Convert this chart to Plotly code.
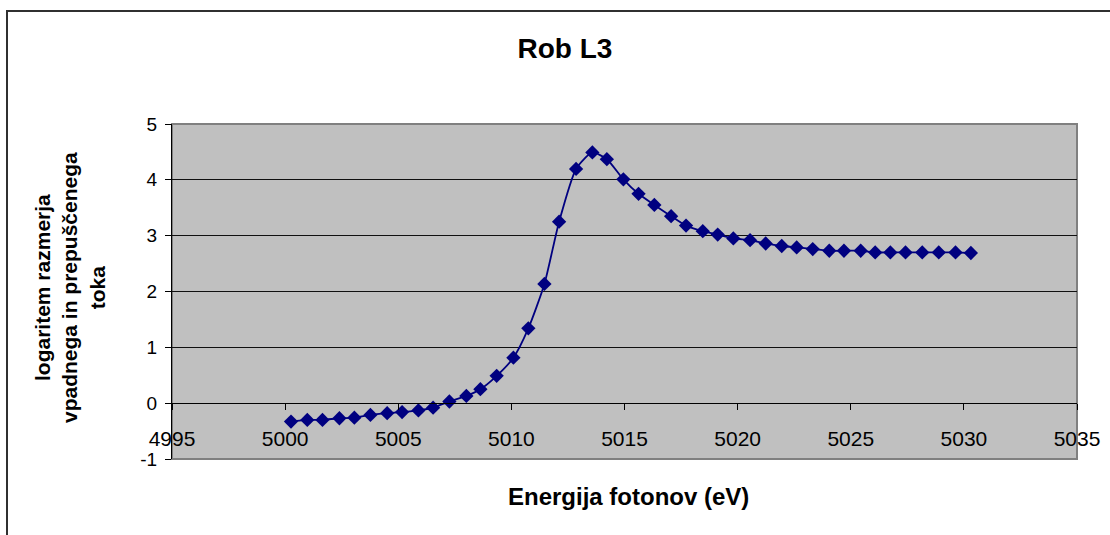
import plotly.graph_objects as go

energy = [5000.26, 5000.98, 5001.65, 5002.40, 5003.06, 5003.77, 5004.51, 5005.17,
          5005.89, 5006.54, 5007.26, 5008.01, 5008.63, 5009.35, 5010.09, 5010.75,
          5011.46, 5012.11, 5012.86, 5013.58, 5014.22, 5014.95, 5015.62, 5016.32,
          5017.06, 5017.72, 5018.46, 5019.12, 5019.81, 5020.55, 5021.24, 5021.95,
          5022.61, 5023.32, 5024.05, 5024.70, 5025.44, 5026.08, 5026.75, 5027.42,
          5028.16, 5028.89, 5029.63, 5030.31]
log_ratio = [-0.33, -0.30, -0.30, -0.27, -0.26, -0.21, -0.18, -0.16,
             -0.13, -0.08, 0.03, 0.13, 0.25, 0.49, 0.815, 1.34,
             2.135, 3.25, 4.195, 4.49, 4.37, 4.01, 3.75, 3.55,
             3.35, 3.18, 3.08, 3.02, 2.95, 2.92, 2.86, 2.815,
             2.79, 2.76, 2.73, 2.73, 2.73, 2.70, 2.70, 2.70,
             2.70, 2.70, 2.70, 2.69]

x_range = [4995, 5035]
y_range = [-1, 5]
x_ticks = [4995, 5000, 5005, 5010, 5015, 5020, 5025, 5030, 5035]
y_ticks = [-1, 0, 1, 2, 3, 4, 5]
y_ticklabels = ["-1", "0", "1", "2", "3", "4", "5"]

title_text = "Rob L3"
x_title = "Energija fotonov (eV)"
y_title = "logaritem razmerja<br>vpadnega in prepuščenega<br>toka"

W, H = 1110, 535
ml, mt = 172, 124
pw, ph = 905, 335
mr, mb = W - ml - pw, H - mt - ph
zero_frac = (0 - y_range[0]) / (y_range[1] - y_range[0])

font = "Liberation Sans, Arial, sans-serif"
navy = "#000080"

fig = go.Figure()
fig.add_trace(go.Scatter(
    x=energy, y=log_ratio, mode="lines+markers",
    line=dict(color=navy, width=1.8, shape="spline", smoothing=0.6),
    marker=dict(symbol="diamond", size=11, color=navy),
    showlegend=False, hoverinfo="x+y",
))
# empty helper trace so that the visible x axis can sit on the y = 0 level
fig.add_trace(go.Scatter(x=[], y=[], xaxis="x2", yaxis="y2",
                         showlegend=False, hoverinfo="skip"))

fig.update_layout(
    width=W, height=H,
    margin=dict(l=ml, r=mr, t=mt, b=mb, autoexpand=False),
    paper_bgcolor="white", plot_bgcolor="rgba(0,0,0,0)",
    font=dict(family=font, size=18, color="black"),
    title=dict(text=title_text, x=565 / W, xref="container", xanchor="center",
               y=1 - 48 / H, yref="container", yanchor="middle",
               font=dict(family=font, size=28, color="black", weight="bold")),
    xaxis=dict(range=x_range, showgrid=False, zeroline=False, showline=False,
               ticks="", showticklabels=False, anchor="y"),
    xaxis2=dict(range=x_range, overlaying="x", anchor="y2", side="bottom",
                tickvals=x_ticks, ticktext=[str(t) for t in x_ticks],
                showgrid=False, zeroline=False, showline=True, linecolor="black",
                linewidth=1, ticks="outside", ticklen=6, tickcolor="black",
                ticklabelstandoff=11,
                tickfont=dict(family=font, size=21)),
    yaxis=dict(range=y_range, tickvals=y_ticks, ticktext=y_ticklabels,
               showgrid=True, gridcolor="#101010",
               gridwidth=1, zeroline=False, showline=True, linecolor="black",
               linewidth=1, ticks="outside", ticklen=6, tickcolor="black",
               ticklabelstandoff=4,
               tickfont=dict(family=font, size=19)),
    yaxis2=dict(domain=[zero_frac, 1], range=[0, 1], anchor="x2", showgrid=False,
                zeroline=False, showline=False, showticklabels=False, ticks=""),
    shapes=[
        dict(type="rect", xref="paper", yref="paper", x0=0, x1=1, y0=0, y1=1,
             fillcolor="#C0C0C0", line=dict(color="#808080", width=2),
             layer="below"),
        dict(type="rect", xref="paper", yref="paper",
             x0=(7 - ml) / pw, x1=1 + (mr + 10) / pw,
             y0=-(mb + 10) / ph, y1=1 + (mt - 11) / ph,
             line=dict(color="#303030", width=2), layer="below"),
    ],
    annotations=[
        dict(text=x_title, xref="paper", yref="paper",
             x=(628 - ml) / pw, y=-(496 - mt - ph) / ph, showarrow=False,
             xanchor="center", yanchor="middle",
             font=dict(family=font, size=24, color="black", weight="bold")),
        dict(text=y_title, xref="paper", yref="paper", textangle=-90,
             x=(70 - ml) / pw, y=1 - (288 - mt) / ph, showarrow=False,
             xanchor="center", yanchor="middle",
             font=dict(family=font, size=21, color="black", weight="bold")),
    ],
)

fig.write_html("out.html", config={"displayModeBar": False},
               post_script="document.body.style.margin='0';")
